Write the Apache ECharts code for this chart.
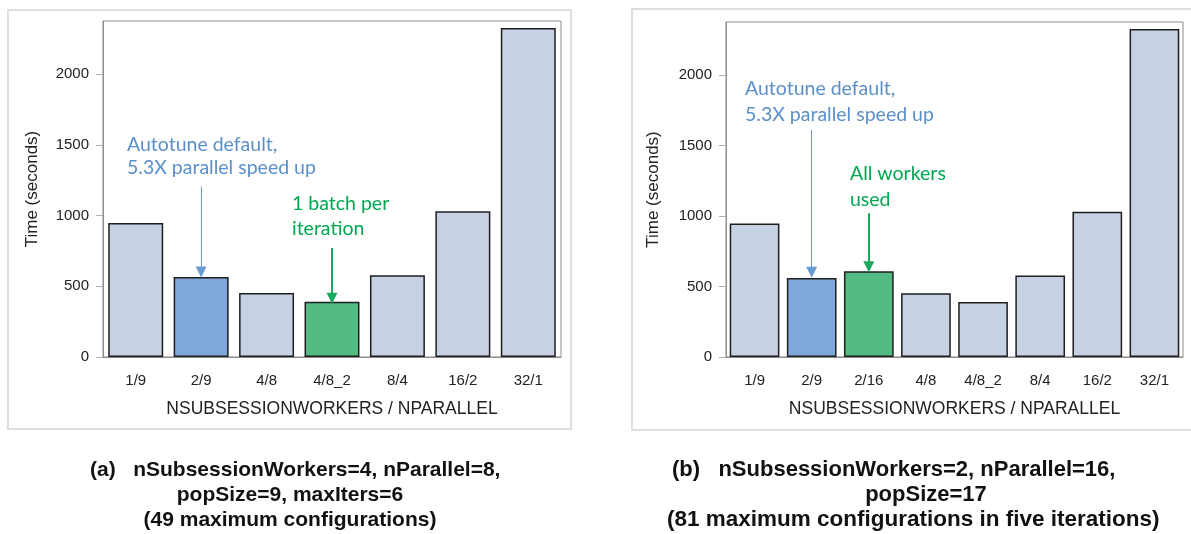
<!DOCTYPE html>
<html>
<head>
<meta charset="utf-8">
<script src="https://cdn.jsdelivr.net/npm/echarts@6/dist/echarts.min.js"></script>
<style>
  html, body { margin: 0; padding: 0; background: #fff; }
  #main { width: 1191px; height: 534px; }
</style>
</head>
<body>
<div id="main"></div>
<script>
// panel (a)
var catsA = ["1/9", "2/9", "4/8", "4/8_2", "8/4", "16/2", "32/1"];
var timesA = [947, 565, 452, 390, 578, 1030, 2325];
// panel (b)
var catsB = ["1/9", "2/9", "2/16", "4/8", "4/8_2", "8/4", "16/2", "32/1"];
var timesB = [947, 560, 608, 452, 390, 578, 1030, 2325];

var blueCat = "2/9";
var greenA = "4/8_2";
var greenB = "2/16";

var LIGHT = "#c6d1e4", BLUE = "#80a8da", GREEN = "#51bb82";
var BLUE_TXT = "#5b8fc9", GREEN_TXT = "#00a850";
var FONT = "'Liberation Sans', Arial, sans-serif";
var NOTE_FONT = "Lato, 'Open Sans', sans-serif";

function barData(cats, vals, green) {
  return cats.map(function (c, i) {
    var col = LIGHT;
    if (c === blueCat) col = BLUE;
    if (c === green) col = GREEN;
    return { value: vals[i], itemStyle: { color: col } };
  });
}

// arrow from a value down to a value above the bar, drawn on the category
function arrowPair(cat, from, to, color, width) {
  return [
    { coord: [cat, from], lineStyle: { color: color, width: width, type: "solid" }, itemStyle: { color: color } },
    { coord: [cat, to], itemStyle: { color: color } }
  ];
}

function xAxis(idx, cats) {
  return {
    type: "category",
    gridIndex: idx,
    data: cats,
    name: "NSUBSESSIONWORKERS / NPARALLEL",
    nameLocation: "middle",
    nameGap: 43,
    nameTextStyle: { fontFamily: FONT, fontSize: 17.5, color: "#222" },
    axisLine: { lineStyle: { color: "#8c8c8c" } },
    axisTick: { alignWithLabel: true, length: 7, lineStyle: { color: "#b0b0b0" } },
    axisLabel: { margin: 16, fontFamily: FONT, fontSize: 15, color: "#222" }
  };
}

function yAxis(idx, gap) {
  return {
    type: "value",
    gridIndex: idx,
    min: 0,
    max: 2375,
    interval: 500,
    name: "Time (seconds)",
    nameLocation: "middle",
    nameGap: gap,
    nameTextStyle: { fontFamily: FONT, fontSize: 17, color: "#222" },
    splitLine: { show: false },
    axisLine: { show: true, lineStyle: { color: "#8c8c8c" } },
    axisTick: { show: true, length: 7, lineStyle: { color: "#b0b0b0" } },
    axisLabel: {
      margin: 14, fontFamily: FONT, fontSize: 15, color: "#222", showMaxLabel: false,
      formatter: function (v) { return String(v); }
    }
  };
}

function note(x, y, text, color) {
  return {
    type: "text", x: x, y: y, silent: true,
    style: { text: text, fill: color, font: "19.5px " + NOTE_FONT, verticalAlign: "middle" }
  };
}

function caption(x, y, text, align, size) {
  return {
    type: "text", x: x, y: y, silent: true,
    style: { text: text, fill: "#111", font: "bold " + size + "px " + FONT, align: align, verticalAlign: "middle" }
  };
}

function arrows(pairs) {
  return {
    silent: true,
    symbol: ["none", "triangle"],
    symbolSize: 11,
    label: { show: false },
    lineStyle: { type: "solid" },
    data: pairs
  };
}

var option = {
  animation: false,
  backgroundColor: "#fff",
  grid: [
    { left: 103, top: 21, width: 458, height: 336, show: true, borderColor: "#8c8c8c", borderWidth: 1 },
    { left: 726, top: 22, width: 457, height: 335, show: true, borderColor: "#8c8c8c", borderWidth: 1 }
  ],
  xAxis: [xAxis(0, catsA), xAxis(1, catsB)],
  yAxis: [yAxis(0, 62), yAxis(1, 64)],
  series: [
    {
      type: "bar", xAxisIndex: 0, yAxisIndex: 0,
      barCategoryGap: "16%",
      data: barData(catsA, timesA, greenA),
      itemStyle: { borderColor: "#1e1e1e", borderWidth: 1.5 },
      markLine: arrows([
        arrowPair(blueCat, 1205, 600, "#6a9bd3", 1),
        arrowPair(greenA, 770, 415, "#1aa85c", 2)
      ])
    },
    {
      type: "bar", xAxisIndex: 1, yAxisIndex: 1,
      barCategoryGap: "13%",
      data: barData(catsB, timesB, greenB),
      itemStyle: { borderColor: "#1e1e1e", borderWidth: 1.5 },
      markLine: arrows([
        arrowPair(blueCat, 1610, 600, "#6a9bd3", 1),
        arrowPair(greenB, 1020, 640, "#1aa85c", 2)
      ])
    }
  ],
  graphic: [
    { type: "rect", silent: true, shape: { x: 8, y: 10, width: 563, height: 419 },
      style: { fill: "none", stroke: "#dedede", lineWidth: 2 } },
    { type: "rect", silent: true, shape: { x: 632, y: 9, width: 600, height: 421 },
      style: { fill: "none", stroke: "#dedede", lineWidth: 2 } },
    note(127, 145, "Autotune default,", BLUE_TXT),
    note(127, 168, "5.3X parallel speed up", BLUE_TXT),
    note(292, 204, "1 batch per", GREEN_TXT),
    note(292, 229, "iteration", GREEN_TXT),
    note(745, 89, "Autotune default,", BLUE_TXT),
    note(745, 115, "5.3X parallel speed up", BLUE_TXT),
    note(850, 174, "All workers", GREEN_TXT),
    note(850, 200, "used", GREEN_TXT),
    caption(90, 470, "(a)   nSubsessionWorkers=4, nParallel=8,", "left", 21),
    caption(290, 495, "popSize=9, maxIters=6", "center", 21),
    caption(290, 520, "(49 maximum configurations)", "center", 21),
    caption(672, 470, "(b)   nSubsessionWorkers=2, nParallel=16,", "left", 22),
    caption(926, 495, "popSize=17", "center", 22),
    caption(667, 520, "(81 maximum configurations in five iterations)", "left", 22.5)
  ]
};

var chart = echarts.init(document.getElementById("main"));
chart.setOption(option);
</script>
</body>
</html>
